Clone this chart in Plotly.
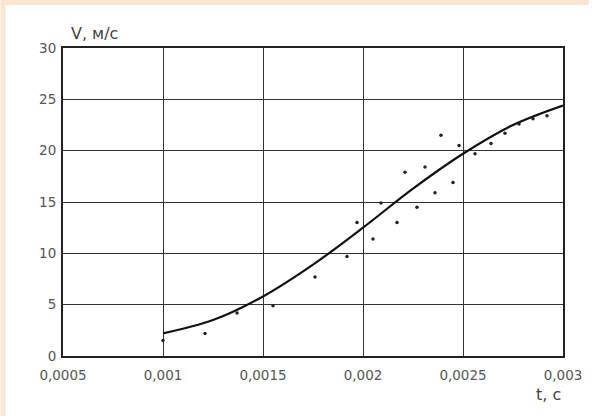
import plotly.graph_objects as go

# Experimental points
t_pts = [0.0010, 0.00121, 0.00137, 0.00155, 0.00176, 0.00192, 0.00197, 0.00205,
         0.00209, 0.00217, 0.00221, 0.00227, 0.00231, 0.00236, 0.00239, 0.00245,
         0.00248, 0.00256, 0.00264, 0.00271, 0.00278, 0.00285, 0.00292]
v_pts = [1.5, 2.2, 4.2, 4.9, 7.7, 9.7, 13.0, 11.4,
         14.9, 13.0, 17.9, 14.5, 18.4, 15.9, 21.5, 16.9,
         20.5, 19.7, 20.7, 21.7, 22.6, 23.1, 23.4]

# Fitted curve
t_fit = [0.0010, 0.00125, 0.0015, 0.00175, 0.0020, 0.00225, 0.0025, 0.00275, 0.0030]
v_fit = [2.2, 3.5, 5.8, 8.9, 12.5, 16.3, 19.7, 22.5, 24.4]

x_ticks = [0.0005, 0.001, 0.0015, 0.002, 0.0025, 0.003]
x_labels = ["0,0005", "0,001", "0,0015", "0,002", "0,0025", "0,003"]
y_ticks = [0, 5, 10, 15, 20, 25, 30]
y_labels = ["0", "5", "10", "15", "20", "25", "30"]

fig = go.Figure()
fig.add_trace(go.Scatter(x=t_fit, y=v_fit, mode="lines", line=dict(color="#111", width=2.2, shape="spline"),
                         hoverinfo="skip"))
fig.add_trace(go.Scatter(x=t_pts, y=v_pts, mode="markers", marker=dict(color="#222", size=3.5)))

fig.update_layout(
    width=594, height=416,
    margin=dict(l=63, r=26, t=48, b=60),
    paper_bgcolor="white",
    plot_bgcolor="white",
    showlegend=False,
    font=dict(family="DejaVu Sans", color="#555", size=13),
    xaxis=dict(range=[0.0005, 0.003], tickvals=x_ticks, ticktext=x_labels,
               showgrid=True, gridcolor="#333", gridwidth=1.2, zeroline=False,
               showline=True, linecolor="#222", linewidth=2, mirror=True,
               ticks="", ticklen=0, ticklabelstandoff=6,
               tickfont=dict(size=13.5, color="#555")),
    yaxis=dict(range=[0, 30], tickvals=y_ticks, ticktext=y_labels,
               showgrid=True, gridcolor="#333", gridwidth=1.2, zeroline=False,
               showline=True, linecolor="#222", linewidth=2, mirror=True,
               ticks="", ticklen=0, ticklabelstandoff=2,
               tickfont=dict(size=13.5, color="#555")),
    annotations=[
        dict(text="V, м/с", xref="paper", yref="paper", x=0.012, y=1.0, yshift=3,
             xanchor="left", yanchor="bottom", showarrow=False, font=dict(size=16, color="#444")),
        dict(text="t, c", xref="paper", yref="paper", x=1.0, y=0, yshift=-27,
             xanchor="right", yanchor="top", showarrow=False, font=dict(size=16, color="#444")),
    ],
)

# peach strips at top and left
fig.add_shape(type="rect", xref="paper", yref="paper",
              x0=-63 / 505, x1=1 + 26 / 505, y0=1 + (48 - 5) / 308, y1=1 + 48 / 308,
              fillcolor="#FDE6CF", line_width=0, layer="below")
fig.add_shape(type="rect", xref="paper", yref="paper",
              x0=-63 / 505, x1=-(63 - 5) / 505, y0=-60 / 308, y1=1 + 48 / 308,
              fillcolor="#FDE6CF", line_width=0, layer="below")

fig.write_html("out.html", config={"displayModeBar": False},
               post_script="document.body.style.margin='0';document.body.style.overflow='hidden';document.body.style.background='white';")
